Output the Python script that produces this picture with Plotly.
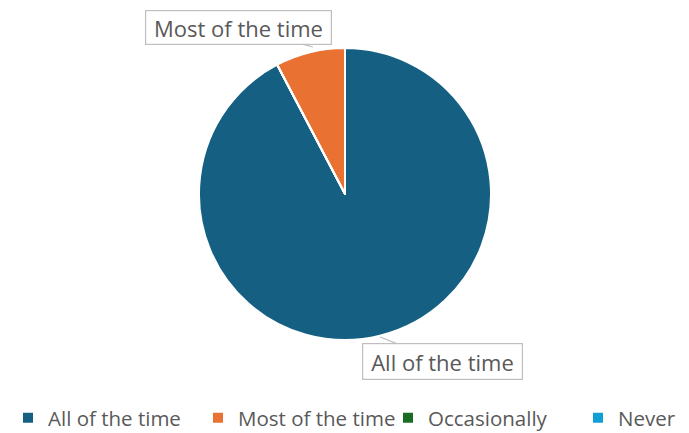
import plotly.graph_objects as go

W, H = 860, 433   # figure wider than the 689px window so the legend stays on one row
OFF = 8  # page body margin offset

labels = ["All of the time", "Most of the time", "Occasionally", "Never"]
values = [12, 1, 0, 0]
colors = ["#156082", "#E97132", "#196B24", "#0F9ED5"]

FONT = "Open Sans"
TXT = "#595959"
FS = 22
LFS = 20.5

# pie placement in screen pixels
CX, TOP, BOT = 345 - OFF, 48 - OFF, 340 - OFF

fig = go.Figure(go.Pie(
    labels=labels, values=values, sort=False, direction="counterclockwise",
    rotation=0, marker=dict(colors=colors, line=dict(color="white", width=2)),
    textinfo="none", hoverinfo="label+value",
    domain=dict(x=[0, 2 * CX / W], y=[1 - BOT / H, 1 - TOP / H]),
))

BW, PAD = 1.2, 1

def callout(text, tipx, tipy, x0, x1, y0, y1):
    tipx, tipy = tipx - OFF, tipy - OFF
    cx, cy = (x0 + x1) / 2 - OFF, (y0 + y1) / 2 - OFF
    return dict(
        text=text, xref="paper", yref="paper", x=tipx / W, y=1 - tipy / H,
        ax=cx - tipx, ay=cy - tipy, showarrow=True, arrowhead=0,
        arrowwidth=1.2, arrowcolor="#BFBFBF",
        width=(x1 - x0) - 2 * (BW + PAD), height=(y1 - y0) - 2 * (BW + PAD),
        bordercolor="#BFBFBF", borderwidth=BW, borderpad=PAD, bgcolor="white",
        font=dict(family=FONT, size=FS, color=TXT),
    )

fig.update_layout(
    width=W, height=H, margin=dict(l=0, r=0, t=0, b=0, autoexpand=False),
    paper_bgcolor="white", plot_bgcolor="white",
    font=dict(family=FONT, color=TXT),
    legend=dict(orientation="h", xref="container", yref="container",
                x=0, xanchor="left", y=(H - (418 - OFF)) / H, yanchor="middle",
                font=dict(family=FONT, size=LFS, color=TXT), traceorder="normal",
                itemclick=False, itemwidth=30,
                entrywidth=145, entrywidthmode="pixels"),
    annotations=[
        callout("Most of the time", 313, 47, 145, 332, 10, 45),
        callout("All of the time", 380, 337, 362, 523, 343, 380),
    ],
)

fig.write_html("out.html")
